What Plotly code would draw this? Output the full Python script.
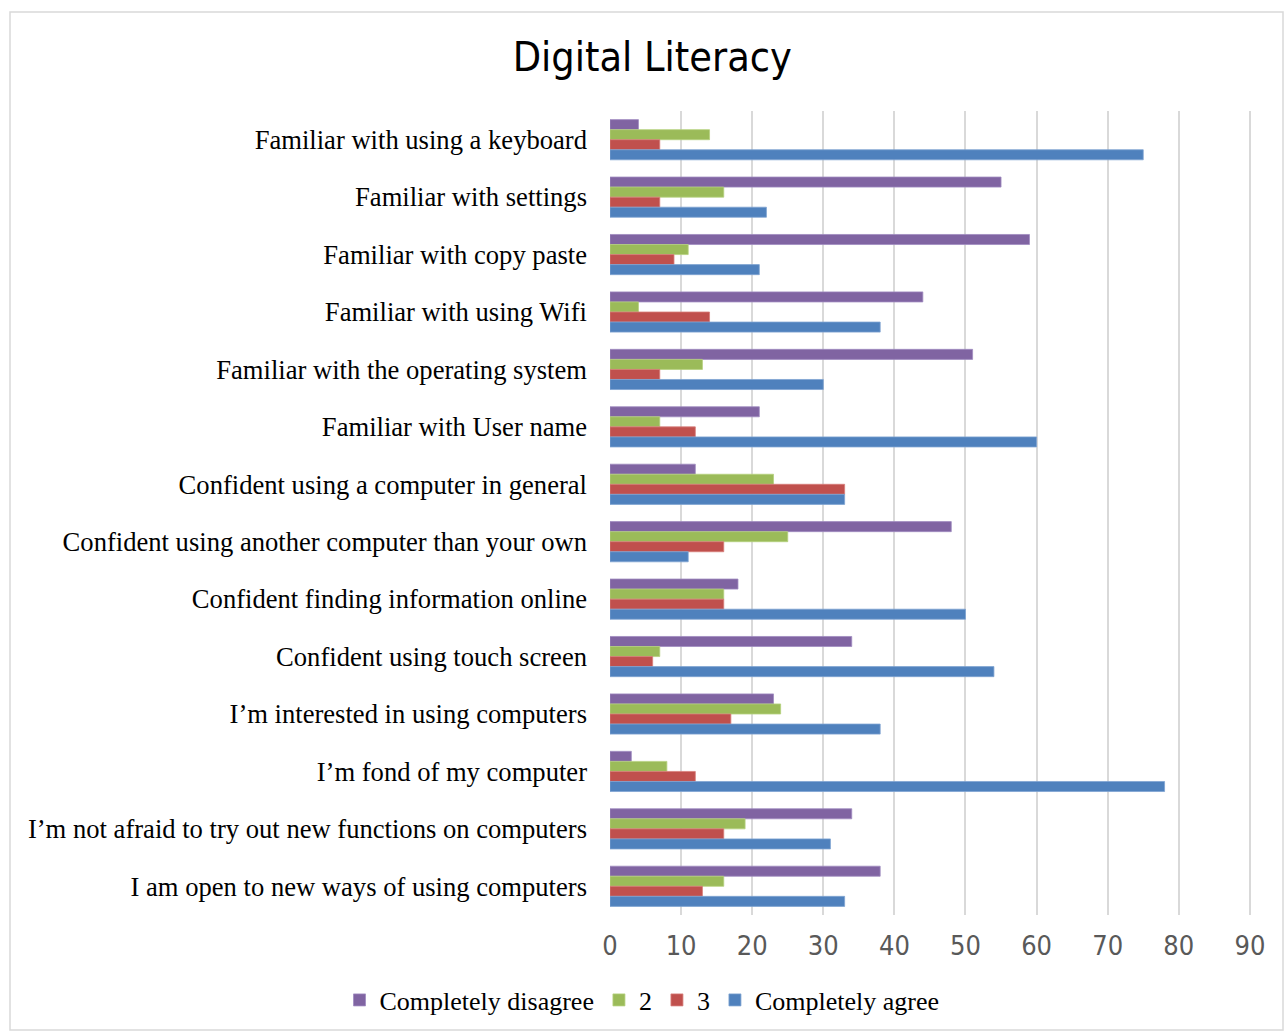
import plotly.graph_objects as go

categories = [
    "Familiar with using a keyboard",
    "Familiar with settings",
    "Familiar with copy paste",
    "Familiar with using Wifi",
    "Familiar with the operating system",
    "Familiar with User name",
    "Confident using a computer in general",
    "Confident using another computer than your own",
    "Confident finding information online",
    "Confident using touch screen",
    "I\u2019m interested in using computers",
    "I\u2019m fond of my computer",
    "I\u2019m not afraid to try out new functions on computers",
    "I am open to new ways of using computers",
]
completely_disagree = [4, 55, 59, 44, 51, 21, 12, 48, 18, 34, 23, 3, 34, 38]
level_2 = [14, 16, 11, 4, 13, 7, 23, 25, 16, 7, 24, 8, 19, 16]
level_3 = [7, 7, 9, 14, 7, 12, 33, 16, 16, 6, 17, 12, 16, 13]
completely_agree = [75, 22, 21, 38, 30, 60, 33, 11, 50, 54, 38, 78, 31, 33]
series_names = ["Completely disagree", "2", "3", "Completely agree"]
x_ticks = [0, 10, 20, 30, 40, 50, 60, 70, 80, 90]

colors = ["#8064A2", "#9BBB59", "#C0504D", "#4F81BD"]
edge = ["#A08BC0", "#B5D07E", "#D77D7A", "#7FA3D2"]

fig = go.Figure()
for name, vals, c, e in zip(series_names,
                            [completely_disagree, level_2, level_3, completely_agree],
                            colors, edge):
    fig.add_trace(go.Bar(
        y=categories, x=vals, name=name, orientation="h",
        marker=dict(color=c, line=dict(color=e, width=0.8)),
    ))

serif = "Liberation Serif, Times New Roman, serif"
sans = "DejaVu Sans Condensed, DejaVu Sans, Verdana, sans-serif"

PW = 647  # plot width in px (0..91)
fig.update_layout(
    width=1284, height=1031,
    margin=dict(l=610, r=1284 - 610 - PW, t=111, b=116),
    paper_bgcolor="white", plot_bgcolor="white",
    barmode="group", bargap=0.30, bargroupgap=0.0,
    title=dict(text="Digital Literacy", x=0.508, xref="container", xanchor="center",
               y=1 - 57 / 1031, yref="container", yanchor="middle",
               font=dict(family=sans, size=41, color="#000000")),
    legend=dict(orientation="h", x=0.5, xref="container", xanchor="center",
                y=1 - 1000 / 1031, yref="container", yanchor="middle",
                font=dict(family=serif, size=26, color="#000000"),
                traceorder="normal", itemwidth=30),
    showlegend=True,
    font=dict(family=serif),
)
fig.update_xaxes(range=[0, 91], tickvals=x_ticks, showgrid=True, gridcolor="#D9D9D9",
                 gridwidth=2, zeroline=False, showline=False, ticks="",
                 ticklabelstandoff=12,
                 tickfont=dict(family=sans, size=27, color="#595959"))
fig.update_yaxes(autorange="reversed", showgrid=False, zeroline=False, showline=False,
                 ticks="", ticklabelstandoff=22,
                 tickfont=dict(family=serif, size=26.6, color="#000000"))

# chart frame
fig.add_shape(type="rect", xref="paper", yref="paper",
              x0=(10 - 610) / PW, x1=(1283 - 610) / PW,
              y0=(915 - 1030) / 804, y1=(915 - 12) / 804,
              line=dict(color="#D9D9D9", width=1.5), fillcolor="rgba(0,0,0,0)", layer="below")

fig.write_html("out.html")
